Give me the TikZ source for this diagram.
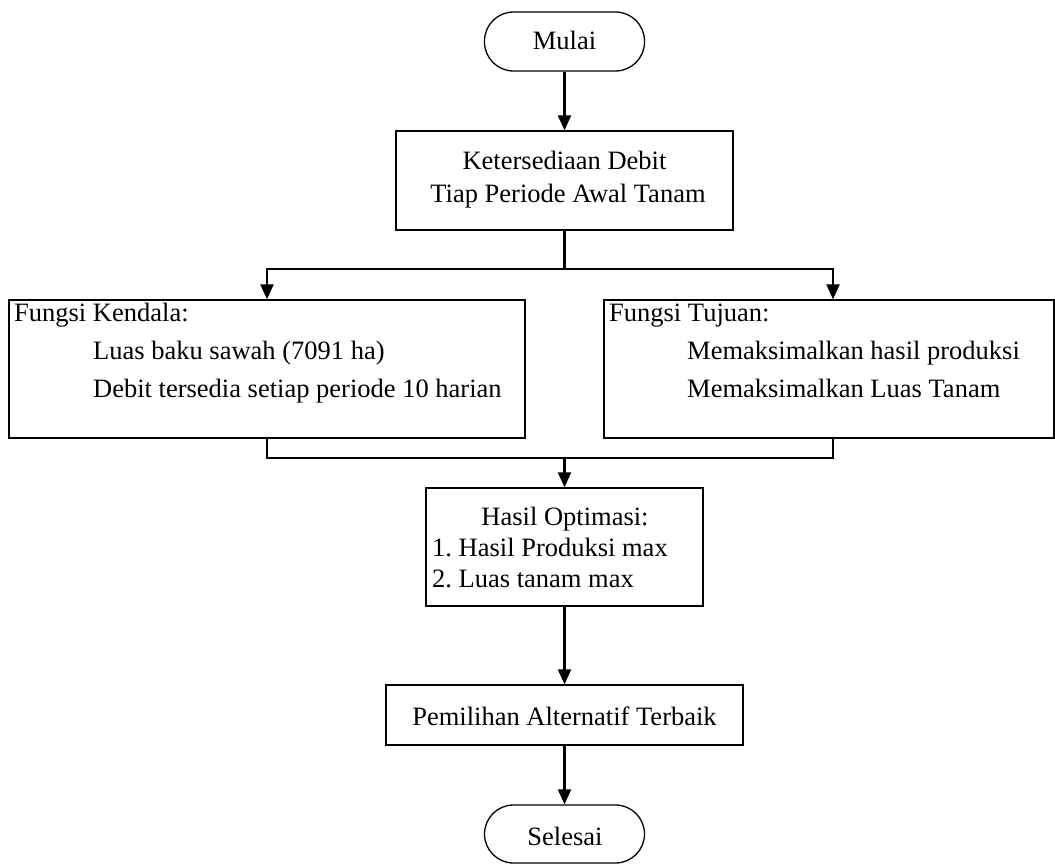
\documentclass[tikz,border=0pt]{standalone}
\usepackage{fontspec}
\setmainfont{Liberation Serif}
\usetikzlibrary{arrows.meta}
\frenchspacing
\tikzset{
  boxstyle/.style={draw=black, line width=1.3pt, rectangle, inner sep=0pt},
  termstyle/.style={draw=black, line width=1.3pt, rectangle, rounded corners=29pt, inner sep=0pt, minimum width=160pt},
  txt/.style={inner sep=0pt, font=\fontsize{26.5}{31}\selectfont},
  conn/.style={line width=2.2pt, draw=black},
  arr/.style={conn, -{Triangle[width=13pt,length=15pt]}}
}
\begin{document}
\frenchspacing
\begin{tikzpicture}[x=1pt,y=-1pt]
\useasboundingbox (0,0) rectangle (1055,864);
% shapes
\node[termstyle, minimum height=59pt] (start) at (564.5,41.5) {};
\node[boxstyle, minimum width=337pt, minimum height=99pt] (ket) at (564.5,180.5) {};
\node[boxstyle, minimum width=516pt, minimum height=138pt] (kend) at (267,369) {};
\node[boxstyle, minimum width=450pt, minimum height=138pt] (tuj) at (829,369) {};
\node[boxstyle, minimum width=277pt, minimum height=118pt] (hasil) at (564.5,547) {};
\node[boxstyle, minimum width=357pt, minimum height=60pt] (pilih) at (564.5,715) {};
\node[termstyle, minimum height=58pt] (end) at (564.5,834) {};
% texts
\node[txt, anchor=base] (tstart) at (564.5,50) {Mulai};
\node[txt, anchor=base] (tket1) at (564.5,170) {Ketersediaan Debit};
\node[txt, anchor=base] (tket2) at (568,202) {Tiap Periode Awal Tanam};
\node[txt, anchor=base west] (tkend1) at (14,321) {Fungsi Kendala:};
\node[txt, anchor=base west] (tkend2) at (93,359) {Luas baku sawah (7091 ha)};
\node[txt, anchor=base west] (tkend3) at (93,397) {Debit tersedia setiap periode 10 harian};
\node[txt, anchor=base west] (ttuj1) at (609,321) {Fungsi Tujuan:};
\node[txt, anchor=base west] (ttuj2) at (687,359) {Memaksimalkan hasil produksi};
\node[txt, anchor=base west] (ttuj3) at (687,397) {Memaksimalkan Luas Tanam};
\node[txt, anchor=base] (thasil1) at (565,525) {Hasil Optimasi:};
\node[txt, anchor=base west] (thasil2) at (432,556) {1. Hasil Produksi max};
\node[txt, anchor=base west] (thasil3) at (432,587) {2. Luas tanam max};
\node[txt, anchor=base] (tpilih) at (564.5,725) {Pemilihan Alternatif Terbaik};
\node[txt, anchor=base] (tend) at (565,845) {Selesai};
% connectors
\coordinate (split) at (564.5,269);
\coordinate (merge) at (564.5,458);
\coordinate (tujtop) at ([xshift=4pt]tuj.north);
\coordinate (tujbot) at ([xshift=4pt]tuj.south);
\draw[arr] (start.south) -- (ket.north);
\draw[conn] (ket.south) -- (split);
\draw[arr] (split) -| (kend.north);
\draw[arr] (split) -| (tujtop);
\draw[conn] (kend.south) |- (merge);
\draw[conn] (tujbot) |- (merge);
\draw[arr] (merge) -- (hasil.north);
\draw[arr] (hasil.south) -- (pilih.north);
\draw[arr] (pilih.south) -- (end.north);
\end{tikzpicture}
\end{document}
